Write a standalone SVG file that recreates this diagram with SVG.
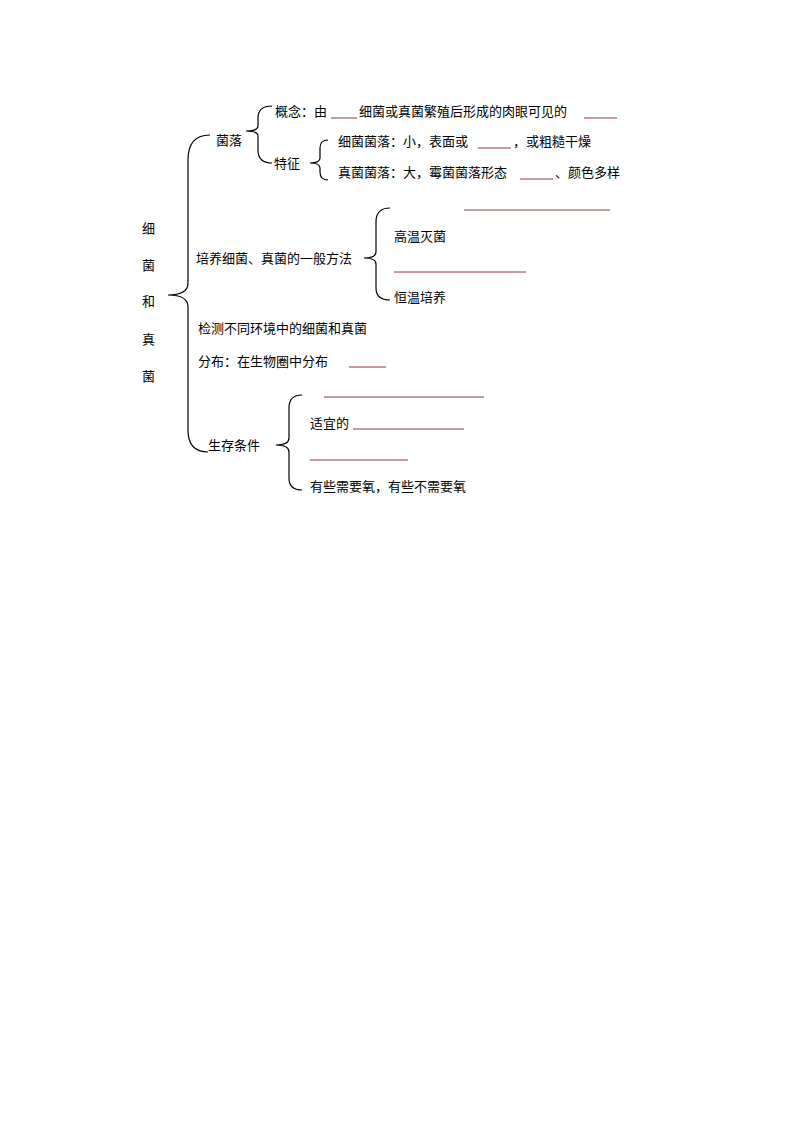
<svg xmlns="http://www.w3.org/2000/svg" width="794" height="1123" viewBox="0 0 794 1123">
<style>
text{font-family:"Liberation Sans","Noto Sans CJK SC",sans-serif;font-size:13px;fill:#000}
.b{fill:none;stroke:#000;stroke-width:1.2}
.u{stroke:#8B3A3A;stroke-width:1}
</style>
<rect width="794" height="1123" fill="#fff"/>
<g id="connectors">
<path class="b" d="M210 135 Q188 135 188 160 L188 283 Q188 295 168 295 Q188 295 188 307 L188 430 Q188 452 208 452"/>
<path class="b" d="M272 106 Q258 106 258 118 L258 126 Q258 131 246 131 Q258 131 258 136 L258 150 Q258 163 272 163"/>
<path class="b" d="M328 140 Q320 140 320 148 L320 158 Q320 163 310 163 Q320 163 320 168 L320 172 Q320 180 328 180"/>
<path class="b" d="M390 208 Q376 208 376 222 L376 252 Q376 258 364 258 Q376 258 376 264 L376 288 Q376 300 390 300"/>
<path class="b" d="M302 395 Q289 395 289 408 L289 438 Q289 445 276 445 Q289 445 289 452 L289 478 Q289 490 302 490"/>
</g>
<g id="lines">
<line class="u" x1="331" y1="118" x2="357" y2="118"/>
<line class="u" x1="584" y1="118" x2="617" y2="118"/>
<line class="u" x1="478" y1="148" x2="511" y2="148"/>
<line class="u" x1="520" y1="179" x2="553" y2="179"/>
<line class="u" x1="464" y1="210" x2="610" y2="210"/>
<line class="u" x1="394" y1="272" x2="526" y2="272"/>
<line class="u" x1="349" y1="367" x2="386" y2="367"/>
<line class="u" x1="324" y1="397" x2="484" y2="397"/>
<line class="u" x1="353" y1="429" x2="464" y2="429"/>
<line class="u" x1="310" y1="460" x2="408" y2="460"/>
</g>
<g id="root"><text x="142" y="233">细</text><text x="142" y="270">菌</text><text x="142" y="306">和</text><text x="142" y="344">真</text><text x="142" y="381">菌</text></g>
<g id="n-junluo"><text x="216" y="145">菌落</text></g>
<g id="n-gainian"><text x="275" y="116">概念：由</text><text x="359" y="116">细菌或真菌繁殖后形成的肉眼可见的</text></g>
<g id="n-tezheng"><text x="274" y="168">特征</text></g>
<g id="n-xijun"><text x="338" y="146">细菌菌落：小，表面或</text><text x="513" y="146">，或粗糙干燥</text></g>
<g id="n-zhenjun"><text x="338" y="177">真菌菌落：大，霉菌菌落形态</text><text x="555" y="177">、颜色多样</text></g>
<g id="n-peiyang"><text x="196" y="263">培养细菌、真菌的一般方法</text></g>
<g id="n-gaowen"><text x="394" y="241">高温灭菌</text></g>
<g id="n-hengwen"><text x="394" y="302">恒温培养</text></g>
<g id="n-jiance"><text x="198" y="333">检测不同环境中的细菌和真菌</text></g>
<g id="n-fenbu"><text x="198" y="366">分布：在生物圈中分布</text></g>
<g id="n-shengcun"><text x="208" y="450">生存条件</text></g>
<g id="n-shiyi"><text x="310" y="428">适宜的</text></g>
<g id="n-yang"><text x="310" y="491">有些需要氧，有些不需要氧</text></g>
</svg>
